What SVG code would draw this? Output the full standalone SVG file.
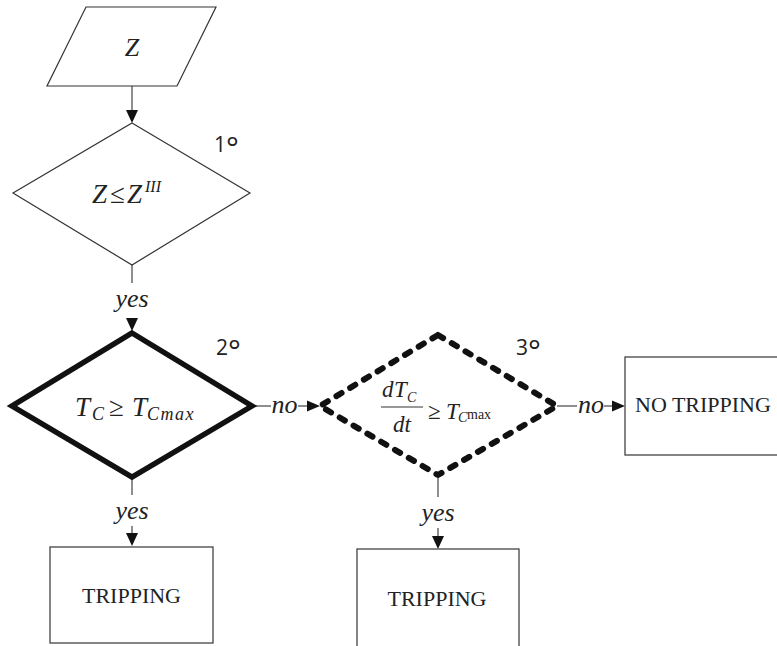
<svg xmlns="http://www.w3.org/2000/svg" width="777" height="646" viewBox="0 0 777 646">
<defs>
<style>
.thin{fill:none;stroke:#444;stroke-width:1.2}
.box{fill:#fff;stroke:#444;stroke-width:1.3}
.m{font-family:"Liberation Serif",serif;font-style:italic;fill:#222}
.r{font-family:"Liberation Serif",serif;fill:#222}
.lbl{font-family:"Open Sans","Liberation Sans",sans-serif;font-size:21px;fill:#222}
.deg{font-size:30px}
.ah{fill:#111}
</style>
</defs>
<rect width="777" height="646" fill="#fff"/>
<g id="connectors">
<line class="thin" x1="132" y1="86" x2="132" y2="110"/>
<path class="ah" d="M126,110 L138,110 L132,123 z"/>
<line class="thin" x1="132" y1="265" x2="132" y2="283"/>
<text class="m" x="132" y="307" font-size="26" text-anchor="middle">yes</text>
<path class="ah" d="M126,318 L138,318 L132,331 z"/>
<line class="thin" x1="132" y1="477" x2="132" y2="495"/>
<text class="m" x="132" y="519" font-size="26" text-anchor="middle">yes</text>
<line class="thin" x1="132" y1="526" x2="132" y2="533"/>
<path class="ah" d="M126,533 L138,533 L132,546 z"/>
<line class="thin" x1="252" y1="406" x2="271" y2="406"/>
<text class="m" x="284.5" y="413" font-size="26" text-anchor="middle">no</text>
<line class="thin" x1="298" y1="406" x2="307" y2="406"/>
<path class="ah" d="M307,400.5 L307,411.5 L320,406 z"/>
<line class="thin" x1="557" y1="406" x2="577" y2="406"/>
<text class="m" x="591" y="413" font-size="26" text-anchor="middle">no</text>
<line class="thin" x1="604" y1="406" x2="612" y2="406"/>
<path class="ah" d="M612,400.5 L612,411.5 L625,406 z"/>
<line class="thin" x1="438" y1="476" x2="438" y2="497"/>
<text class="m" x="438" y="521" font-size="26" text-anchor="middle">yes</text>
<line class="thin" x1="438" y1="528" x2="438" y2="536"/>
<path class="ah" d="M432,536 L444,536 L438,549 z"/>
</g>
<g id="input">
<polygon class="thin" points="86,7 216,7 177,86 47,86" style="stroke:#333"/>
<text class="m" x="132" y="56" font-size="26" text-anchor="middle">Z</text>
</g>
<g id="decision1">
<polygon class="thin" points="132,123 250,193 132,265 13,193" style="stroke:#333"/>
<text class="m" x="92" y="203" font-size="27">Z</text>
<text class="r" x="110" y="203" font-size="27">≤</text>
<text class="m" x="127" y="203" font-size="27">Z</text>
<text class="m" x="145" y="192" font-size="16">III</text>
<text class="lbl" x="214" y="152">1<tspan class="deg" dy="6">°</tspan></text>
</g>
<g id="decision2">
<polygon points="132,333 252,406 132,477 12,406" fill="none" stroke="#111" stroke-width="5.5" stroke-linejoin="miter"/>
<text class="m" x="75" y="416" font-size="27">T</text>
<text class="m" x="92" y="420" font-size="18">C</text>
<text class="r" x="109" y="416" font-size="27">≥</text>
<text class="m" x="132" y="416" font-size="27">T</text>
<text class="m" x="147" y="420" font-size="18" letter-spacing="1.5">Cmax</text>
<text class="lbl" x="216" y="355">2<tspan class="deg" dy="6">°</tspan></text>
</g>
<g id="decision3">
<polygon points="438,335 557,406 438,475 320,406" fill="none" stroke="#111" stroke-width="6" stroke-dasharray="6 10" stroke-linecap="round" stroke-linejoin="round"/>
<text class="m" x="382" y="397" font-size="23">d</text>
<text class="m" x="394" y="397" font-size="23">T</text>
<text class="m" x="407" y="402" font-size="14">C</text>
<line x1="381" y1="407" x2="423" y2="407" stroke="#333" stroke-width="1"/>
<text class="m" x="402" y="432" font-size="23" text-anchor="middle">dt</text>
<text class="r" x="428" y="419" font-size="23">≥</text>
<text class="m" x="446" y="419" font-size="23">T</text>
<text class="m" x="458" y="422" font-size="14">C</text>
<text class="r" x="467" y="419" font-size="14">max</text>
<text class="lbl" x="516" y="355">3<tspan class="deg" dy="6">°</tspan></text>
</g>
<g id="no-tripping">
<rect class="box" x="625" y="357" width="160" height="98"/>
<text class="r" x="635" y="412" font-size="22">NO TRIPPING</text>
</g>
<g id="tripping1">
<rect class="box" x="50" y="547" width="163" height="96"/>
<text class="r" x="131.5" y="603" font-size="22" text-anchor="middle">TRIPPING</text>
</g>
<g id="tripping2">
<rect class="box" x="357" y="549" width="162" height="110"/>
<text class="r" x="437" y="606" font-size="22" text-anchor="middle">TRIPPING</text>
</g>
</svg>
